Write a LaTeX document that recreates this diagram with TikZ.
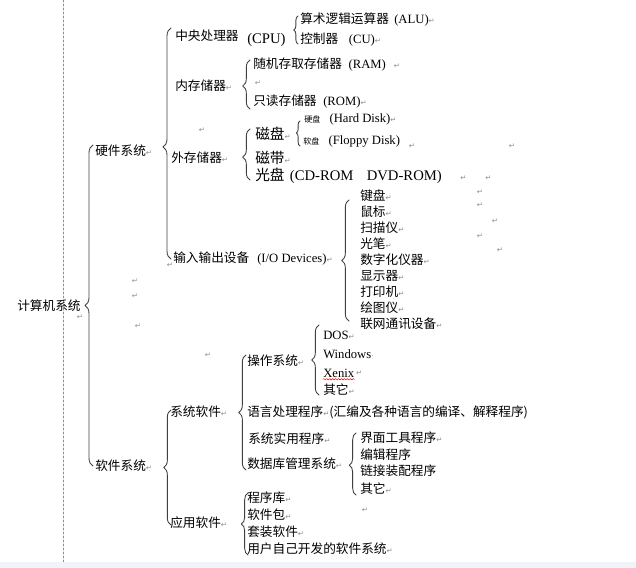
\documentclass[tikz,border=0pt]{standalone}
\usepackage{fontspec}
\setmainfont{Noto Sans CJK SC}
\newfontfamily\latinfont{Liberation Serif}
\newfontfamily\markfont{DejaVu Sans}
\usetikzlibrary{decorations.pathreplacing,decorations.pathmorphing,positioning}
\definecolor{statusbar}{RGB}{240,243,248}
\newcommand\pmk{{\markfont\fontsize{5.5}{6}\selectfont\textcolor{black!45}{↵}}}
\newcommand\lt[1]{{\latinfont #1}}
\newcommand\tinyzh[1]{{\fontsize{6}{7}\selectfont #1}}

\begin{document}
\begin{tikzpicture}[
    x={(0.75pt,0)}, y={(0,-0.75pt)},
    line join=round, line cap=round,
    every node/.style={anchor=west,inner sep=0pt,font=\fontsize{9.5}{11}\selectfont},
    big/.style={font=\fontsize{11}{13}\selectfont},
    pmark/.style={anchor=center,font=\markfont\fontsize{5.5}{6}\selectfont,text=black!45},
    brc/.style={decorate,decoration={brace,amplitude=5.5pt,aspect=#1},
        draw=black!75,line width=0.65pt},
    brc/.default=0.5,
    sbrc/.style={brc=#1,decoration={amplitude=3.2pt}},
    sbrc/.default=0.5,
    margin/.style={draw=black!45,dash pattern=on 1.5pt off 1.5pt,line width=0.4pt},
    spell/.style={draw=red!85!black,line width=0.35pt,decorate,
        decoration={snake,segment length=2.2pt,amplitude=0.5pt}}
]
    \useasboundingbox (0,0) rectangle (636,568);

    % page margin and the status strip of the editor window
    \coordinate (mtop) at (63,0);
    \coordinate (mbot) at (63,562);
    \draw[margin] (mtop) -- (mbot);
    \fill[statusbar] (0,562) rectangle (636,568);

    % root and its two branches
    \node (sys) at (17,306) {计算机系统};
    \node (hw) at (95,151) {硬件系统\pmk};
    \node (sw) at (95,466) {软件系统\pmk};

    % hardware
    \node (cpu) at (175,36) {中央处理器};
    \node[big] (cpuen) at (247,40) {\lt{(CPU)}};
    \node (alu) at (300,19) {算术逻辑运算器\hspace{4pt}\lt{(ALU)}\pmk};
    \node (cu) at (300,40) {控制器\hspace{8pt}\lt{(CU)}\pmk};
    \node (mem) at (175,86) {内存储器\pmk};
    \node (ram) at (253,65) {随机存取存储器\hspace{5pt}\lt{(RAM)}\hspace{6pt}\pmk};
    \node (rom) at (253,102) {只读存储器\hspace{5pt}\lt{(ROM)}\pmk};
    \node (ext) at (171,158) {外存储器\pmk};
    \node[big] (disk) at (255,134) {磁盘\pmk};
    \node (hd) at (304,119) {\tinyzh{硬盘}\hspace{7pt}\lt{(Hard Disk)}\pmk};
    \node (fd) at (303,141) {\tinyzh{软盘}\hspace{7pt}\lt{(Floppy Disk)}};
    \node[big] (tape) at (255,158) {磁带\pmk};
    \node[big] (cd) at (255,176)
        {光盘\hspace{4pt}\lt{(CD-ROM\hspace{10pt}DVD-ROM)}\hspace{14pt}\pmk\hspace{14pt}\pmk};
    \node (io) at (173,259) {输入输出设备\hspace{6pt}\lt{(I/O Devices)}\pmk};
    \foreach \t [count=\i] in {键盘,鼠标,扫描仪,光笔,数字化仪器,显示器,打印机,绘图仪,联网通讯设备}
        \node (dev\i) at (360,180+16*\i) {\t\pmk};

    % software
    \node (syssw) at (170,412) {系统软件\pmk};
    \node (os) at (247,361) {操作系统\pmk};
    \node (dos) at (323,335) {\lt{DOS}\pmk};
    \node (win) at (323,354) {\lt{Windows}\textcolor{black!45}{\markfont\fontsize{5}{6}\selectfont ·}};
    \node (xenix) at (323,373) {\lt{Xenix}};
    \node[pmark,right=1pt of xenix] (pmx) {↵};
    \node (osx) at (323,390) {其它\pmk};
    \node (lang) at (247,412) {语言处理程序\pmk(汇编及各种语言的编译、解释程序)};
    \node (util) at (248,439) {系统实用程序\pmk};
    \node (db) at (247,464) {数据库管理系统\pmk};
    \node (ui) at (360,438) {界面工具程序\pmk};
    \node (edit) at (360,455) {编辑程序};
    \node (link) at (360,471) {链接装配程序};
    \node (dbx) at (360,489) {其它\pmk};
    \node (appsw) at (170,523) {应用软件\pmk};
    \node (lib) at (247,498) {程序库\pmk};
    \node (pkg) at (247,515) {软件包\pmk};
    \node (suite) at (247,532) {套装软件\pmk};
    \node (own) at (247,549) {用户自己开发的软件系统\pmk};

    % spelling mark under Xenix
    \draw[spell] ([yshift=-1.6pt]xenix.base west) -- ([yshift=-1.6pt]xenix.base east);

    % stray paragraph marks
    \foreach \x/\y [count=\i] in {80/317,135/281,135/296,138/326,208/355,202/130,
        258/83,412/146,512/146,480/192,480/205,495/221,480/236,500/250,170/265,365/510}
        \node[pmark] (pm\i) at (\x,\y) {↵};

    % brace ends
    \coordinate (sysT) at (93,145);   \coordinate (sysB) at (93,466);
    \coordinate (hwT) at (171,28);    \coordinate (hwB) at (171,259);
    \coordinate (cpuT) at (298,16);   \coordinate (cpuB) at (298,44);
    \coordinate (memT) at (250,60);   \coordinate (memB) at (250,109);
    \coordinate (extT) at (250,129);  \coordinate (extB) at (250,180);
    \coordinate (diskT) at (300,121); \coordinate (diskB) at (300,146);
    \coordinate (ioT) at (349,200);   \coordinate (ioB) at (349,321);
    \coordinate (swT) at (171,410);   \coordinate (swB) at (171,525);
    \coordinate (ssT) at (246,355);   \coordinate (ssB) at (246,470);
    \coordinate (osT) at (319,325);   \coordinate (osB) at (319,395);
    \coordinate (dbT) at (356,433);   \coordinate (dbB) at (356,495);
    \coordinate (apT) at (248,493);   \coordinate (apB) at (248,555);

    \draw[brc,decoration={amplitude=6pt}] (sysB) -- (sysT);
    \draw[brc=0.485,decoration={amplitude=6pt}] (hwB) -- (hwT);
    \draw[sbrc] (cpuB) -- (cpuT);
    \draw[brc=0.47] (memB) -- (memT);
    \draw[brc=0.45] (extB) -- (extT);
    \draw[sbrc=0.52,decoration={amplitude=2.8pt}] (diskB) -- (diskT);
    \draw[brc] (ioB) -- (ioT);
    \draw[brc] (swB) -- (swT);
    \draw[brc] (ssB) -- (ssT);
    \draw[brc] (osB) -- (osT);
    \draw[brc=0.48,decoration={amplitude=5pt}] (dbB) -- (dbT);
    \draw[brc,decoration={amplitude=5pt}] (apB) -- (apT);
\end{tikzpicture}
\end{document}
